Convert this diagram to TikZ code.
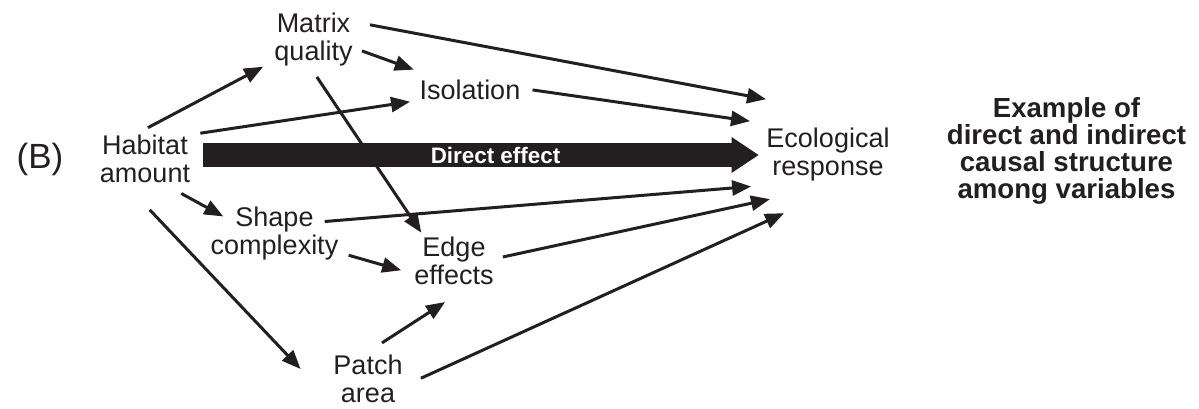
\documentclass[tikz,border=0pt]{standalone}
\usepackage{fontspec}
\setmainfont{Liberation Sans}
\usetikzlibrary{arrows.meta}
\definecolor{ink}{RGB}{35,31,32}

\begin{document}
\begin{tikzpicture}[x=0.5pt,y=-0.5pt,>={Triangle[length=9.5pt,width=7.5pt]}]
\tikzstyle{var}=[inner sep=0pt, align=center, text=ink, font=\fontsize{13.5}{14}\selectfont]
\tikzstyle{link}=[->, line width=1.5pt, draw=ink]
\useasboundingbox (0,0) rectangle (1199,408);
\node[var, font=\fontsize{17.5}{18}\selectfont] (lblB) at (40,159.5) {(B)};
\node[var] (hab) at (145,159) {Habitat\\amount};
\node[var] (mat) at (313.5,40) {Matrix\\quality};
\node[var] (iso) at (470,90) {Isolation};
\node[var] (shp) at (274.5,234) {Shape\\complexity};
\node[var] (edg) at (454,261) {Edge\\effects};
\node[var] (pat) at (368,379) {Patch\\area};
\node[var, minimum height=66pt] (eco) at (828,155) {Ecological\\response};
\node[var, font=\bfseries\fontsize{13.8}{13.5}\selectfont] (note) at (1066.5,151) {Example of\\direct and indirect\\causal structure\\among variables};
% indirect paths
\foreach \a/\b/\s/\t in {hab.113/mat.208/7.5pt/6.2pt, hab.north east/iso.south west/5pt/4.7pt,
    mat.-11/iso.160/4.8pt/14.8pt, mat.263/edg.141/6pt/2.4pt, hab.-54/shp.159/10.6pt/-7.4pt,
    hab.-130/pat.south west/18.2pt/23.6pt, shp.-16/edg.198/5.2pt/6.7pt, pat.100/edg.-55/10.9pt/15.4pt,
    mat.25/eco.138/8.7pt/0pt, iso.2/eco.153/6pt/8.1pt, shp.12/eco.206/-7pt/7.5pt,
    edg.3/eco.216/4.6pt/-2pt, pat.-12/eco.227/9.9pt/-9.9pt}
    \draw[link, shorten <=\s, shorten >=\t] (\a) -- (\b);
% direct path
\draw[draw=ink, line width=12pt, -{Triangle[length=13.5pt,width=18pt,line width=0pt]}, shorten <=6.5pt, shorten >=3.75pt]
    (hab.east |- eco.west) -- (eco.west)
    node[pos=0.53, text=white, font=\bfseries\fontsize{11.2}{12}\selectfont] (de) {Direct effect};
\end{tikzpicture}
\end{document}
